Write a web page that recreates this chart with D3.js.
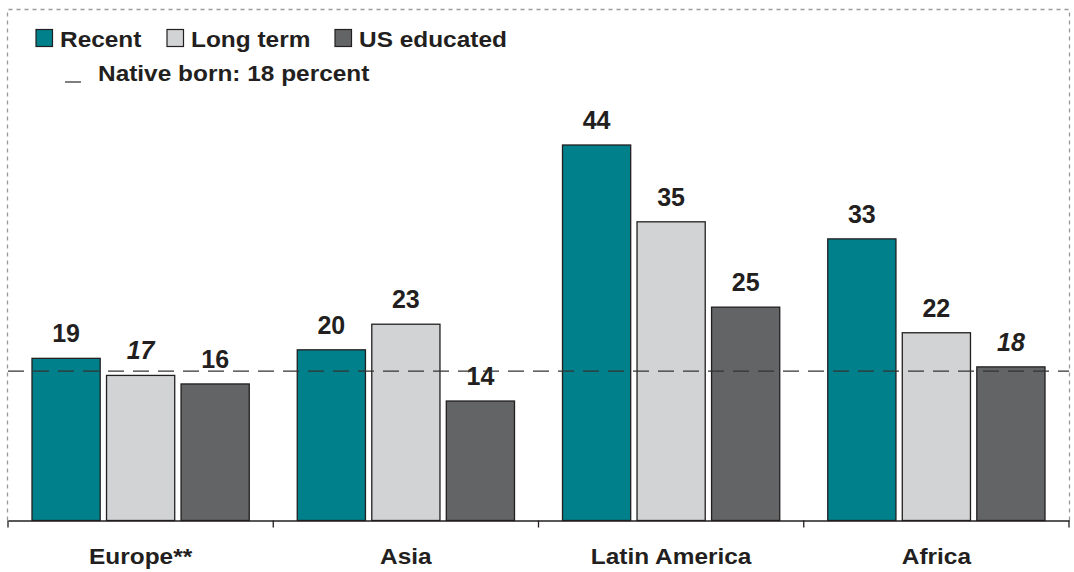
<!DOCTYPE html>
<html><head><meta charset="utf-8">
<script src="https://cdn.jsdelivr.net/npm/d3@7"></script>
<style>body{margin:0;background:#fff}svg{display:block;font-family:"Liberation Sans",Arial,sans-serif}</style>
</head><body><svg id="c" width="1074" height="572"></svg>
<script>
const categories = ["Europe**", "Asia", "Latin America", "Africa"];
const seriesNames = ["Recent", "Long term", "US educated"];
const recent = [19, 20, 44, 33];
const longTerm = [17, 23, 35, 22];
const usEducated = [16, 14, 25, 18];
const italicFlags = [[false, true, false], [false, false, false], [false, false, false], [false, false, true]];
const nativeBorn = 17.5;
const nativeLabel = "Native born: 18 percent";

(function () {
const colors = ["#00808A", "#D1D3D4", "#636466"];
const ink = "#231F20";
const svg = d3.select("#c");
const left = 8, right = 1069, base = 520.5, topY = 145;
const sx = 1.11;

const x = d3.scaleBand().domain(categories).range([left, right]).padding(0);
const x1 = d3.scaleBand().domain(seriesNames).range([24, x.bandwidth() - 24]).paddingInner(0.085);
const y = d3.scaleLinear().domain([0, 44]).range([base, topY]);

// dashed frame
const frame = svg.append("g").attr("stroke", "#9a9a9a").attr("stroke-width", 1.3).attr("stroke-dasharray", "4,4").attr("fill", "none");
frame.append("path").attr("d", `M7.5,${base}V9.5H1069.5V${base}`);

const rows = categories.map((c, i) => ({cat: c, vals: [recent[i], longTerm[i], usEducated[i]]}));
const g = svg.append("g");
rows.forEach((r, i) => {
  const gg = g.append("g").attr("transform", `translate(${x(r.cat)},0)`);
  r.vals.forEach((v, j) => {
    gg.append("rect").attr("x", x1(seriesNames[j])).attr("y", y(v))
      .attr("width", x1.bandwidth()).attr("height", base - y(v))
      .attr("fill", colors[j]).attr("stroke", ink).attr("stroke-width", 1.3);
    gg.append("text").attr("x", x1(seriesNames[j]) + x1.bandwidth() / 2).attr("y", y(v) - 16)
      .attr("text-anchor", "middle").attr("font-size", 25).attr("font-weight", "bold")
      .attr("font-style", italicFlags[i][j] ? "italic" : "normal").attr("fill", ink).text(v);
  });
});

// native born line
svg.append("line").attr("x1", left).attr("x2", right).attr("y1", y(nativeBorn)).attr("y2", y(nativeBorn))
  .attr("stroke", "#333").attr("stroke-width", 1.2).attr("stroke-dasharray", "16,9");

// axis
const axis = svg.append("g").attr("transform", `translate(0,${base})`)
  .call(d3.axisBottom(x).tickSize(0).tickPadding(0).tickSizeOuter(0));
axis.select(".domain").attr("stroke", ink).attr("stroke-width", 1.3);
axis.selectAll("text").attr("font-size", 22).attr("font-weight", "bold").attr("fill", ink)
  .attr("font-family", "Liberation Sans, Arial, sans-serif")
  .attr("y", 0).attr("dy", null).attr("transform", `translate(0,43.5) scale(${sx},1)`);
const bounds = categories.map(c => x(c)).concat([right]);
svg.append("g").selectAll("line").data(bounds).join("line")
  .attr("x1", d => d).attr("x2", d => d).attr("y1", base).attr("y2", base + 7)
  .attr("stroke", ink).attr("stroke-width", 1.3);

// legend
const lgX = [36, 167, 335];
const leg = svg.append("g");
seriesNames.forEach((s, j) => {
  leg.append("rect").attr("x", lgX[j]).attr("y", 29.5).attr("width", 16.5).attr("height", 17)
    .attr("fill", colors[j]).attr("stroke", ink).attr("stroke-width", 1.2);
  leg.append("text").attr("transform", `translate(${lgX[j] + 24},47) scale(${sx},1)`)
    .attr("font-size", 22).attr("font-weight", "bold").attr("fill", ink).text(s);
});
leg.append("line").attr("x1", 65).attr("x2", 81).attr("y1", 82).attr("y2", 82).attr("stroke", "#555").attr("stroke-width", 1.5);
leg.append("text").attr("transform", `translate(98,81) scale(${sx},1)`)
  .attr("font-size", 22).attr("font-weight", "bold").attr("fill", ink).text(nativeLabel);
})();
</script></body></html>
